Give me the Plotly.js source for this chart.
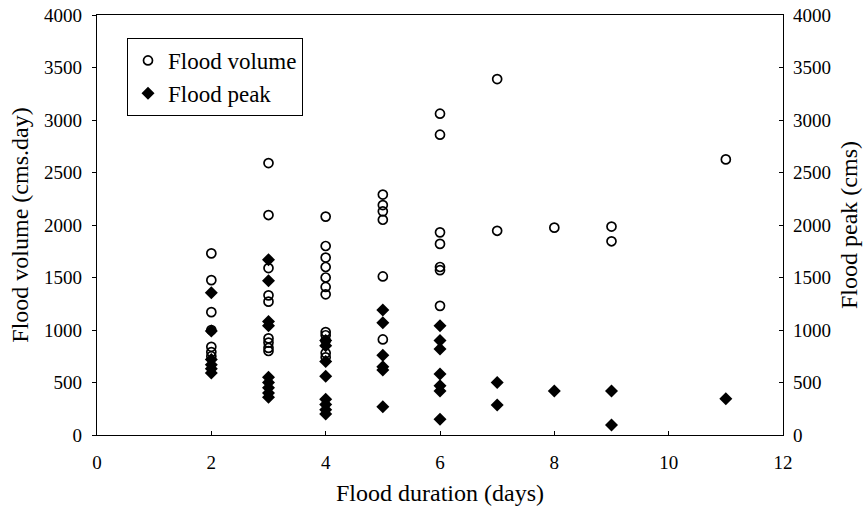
<!DOCTYPE html>
<html>
<head>
<meta charset="utf-8">
<script src="https://cdn.plot.ly/plotly-3.0.1.min.js"></script>
<style>html,body{margin:0;padding:0;background:#fff}#chart{width:867px;height:515px}</style>
</head>
<body>
<div id="chart"></div>
<script>
// Flood duration (days) for each flood volume observation
const volumeDays = [
  2,2,2,2,2,2,2,
  3,3,3,3,3,3,3,3,3,
  4,4,4,4,4,4,4,4,4,4,4,4,
  5,5,5,5,5,5,
  6,6,6,6,6,6,6,
  7,7,
  8,
  9,9,
  11
];
// Flood volume (cms.day)
const volumeValues = [
  1730,1475,1170,1000,840,790,750,
  2590,2095,1590,1330,1270,920,880,830,800,
  2080,1800,1690,1600,1500,1410,1340,980,950,900,780,740,
  2290,2190,2130,2050,1510,910,
  3060,2860,1930,1820,1600,1570,1230,
  3390,1945,
  1975,
  1985,1845,
  2625
];
// Flood duration (days) for each flood peak observation
const peakDays = [
  2,2,2,2,2,2,
  3,3,3,3,3,3,3,3,3,
  4,4,4,4,4,4,4,4,
  5,5,5,5,5,5,
  6,6,6,6,6,6,6,
  7,7,
  8,
  9,9,
  11
];
// Flood peak (cms)
const peakValues = [
  1355,990,720,670,630,590,
  1670,1470,1080,1040,550,500,450,400,360,
  900,850,700,560,340,290,240,200,
  1190,1070,760,650,620,270,
  1040,900,820,580,470,420,150,
  500,285,
  420,
  420,95,
  345
];

const xTicks = [0,2,4,6,8,10,12];
const yTicks = [0,500,1000,1500,2000,2500,3000,3500,4000];

const FONT = 'Liberation Serif, Times New Roman, serif';

const traces = [
  {
    x: volumeDays, y: volumeValues, name: 'Flood volume', type: 'scatter', mode: 'markers',
    marker: {symbol: 'circle-open', size: 9, color: '#000', line: {width: 1.7, color: '#000'}},
    yaxis: 'y', legendgroup: 'a'
  },
  {
    x: peakDays, y: peakValues, name: 'Flood peak', type: 'scatter', mode: 'markers',
    marker: {symbol: 'diamond', size: 10, color: '#000'},
    yaxis: 'y2', legendgroup: 'b'
  }
];

const layout = {
  width: 867, height: 515,
  margin: {l: 97, r: 84, t: 15, b: 80},
  paper_bgcolor: '#fff', plot_bgcolor: '#fff',
  font: {family: FONT, size: 19, color: '#000'},
  showlegend: true,
  legend: {
    x: (127 - 97) / 686, y: (435 - 38) / 420, xanchor: 'left', yanchor: 'top',
    bordercolor: '#000', borderwidth: 1, bgcolor: '#fff',
    font: {family: FONT, size: 23, color: '#000'},
    tracegroupgap: 0, itemwidth: 30
  },
  xaxis: {
    range: [0, 12], tickvals: xTicks, ticktext: xTicks.map(String),
    ticks: 'inside', ticklen: 4, tickcolor: '#000', tickwidth: 1,
    ticklabelstandoff: 10,
    showgrid: false, zeroline: false, showline: true, linecolor: '#000', linewidth: 1.2,
    mirror: true, tickfont: {family: FONT, size: 19, color: '#000'},
    title: {text: 'Flood duration (days)', font: {family: FONT, size: 24, color: '#000'}, standoff: 12}
  },
  yaxis: {
    range: [0, 4000], tickvals: yTicks, ticktext: yTicks.map(String),
    ticks: 'outside', ticklen: 4, tickcolor: '#000',
    ticklabelstandoff: 6,
    showgrid: false, zeroline: false, showline: true, linecolor: '#000', linewidth: 1.2,
    tickfont: {family: FONT, size: 19, color: '#000'},
    title: {text: 'Flood volume (cms.day)', font: {family: FONT, size: 24, color: '#000'}, standoff: 8}
  },
  yaxis2: {
    range: [0, 4000], tickvals: yTicks, ticktext: yTicks.map(String),
    overlaying: 'y', side: 'right',
    ticks: 'inside', ticklen: 4, tickcolor: '#000',
    ticklabelstandoff: 5,
    showgrid: false, zeroline: false, showline: true, linecolor: '#000', linewidth: 1.2,
    tickfont: {family: FONT, size: 19, color: '#000'},
    title: {text: 'Flood peak (cms)', font: {family: FONT, size: 24, color: '#000'}, standoff: 10}
  }
};

Plotly.newPlot('chart', traces, layout, {staticPlot: true, displayModeBar: false});
</script>
</body>
</html>
